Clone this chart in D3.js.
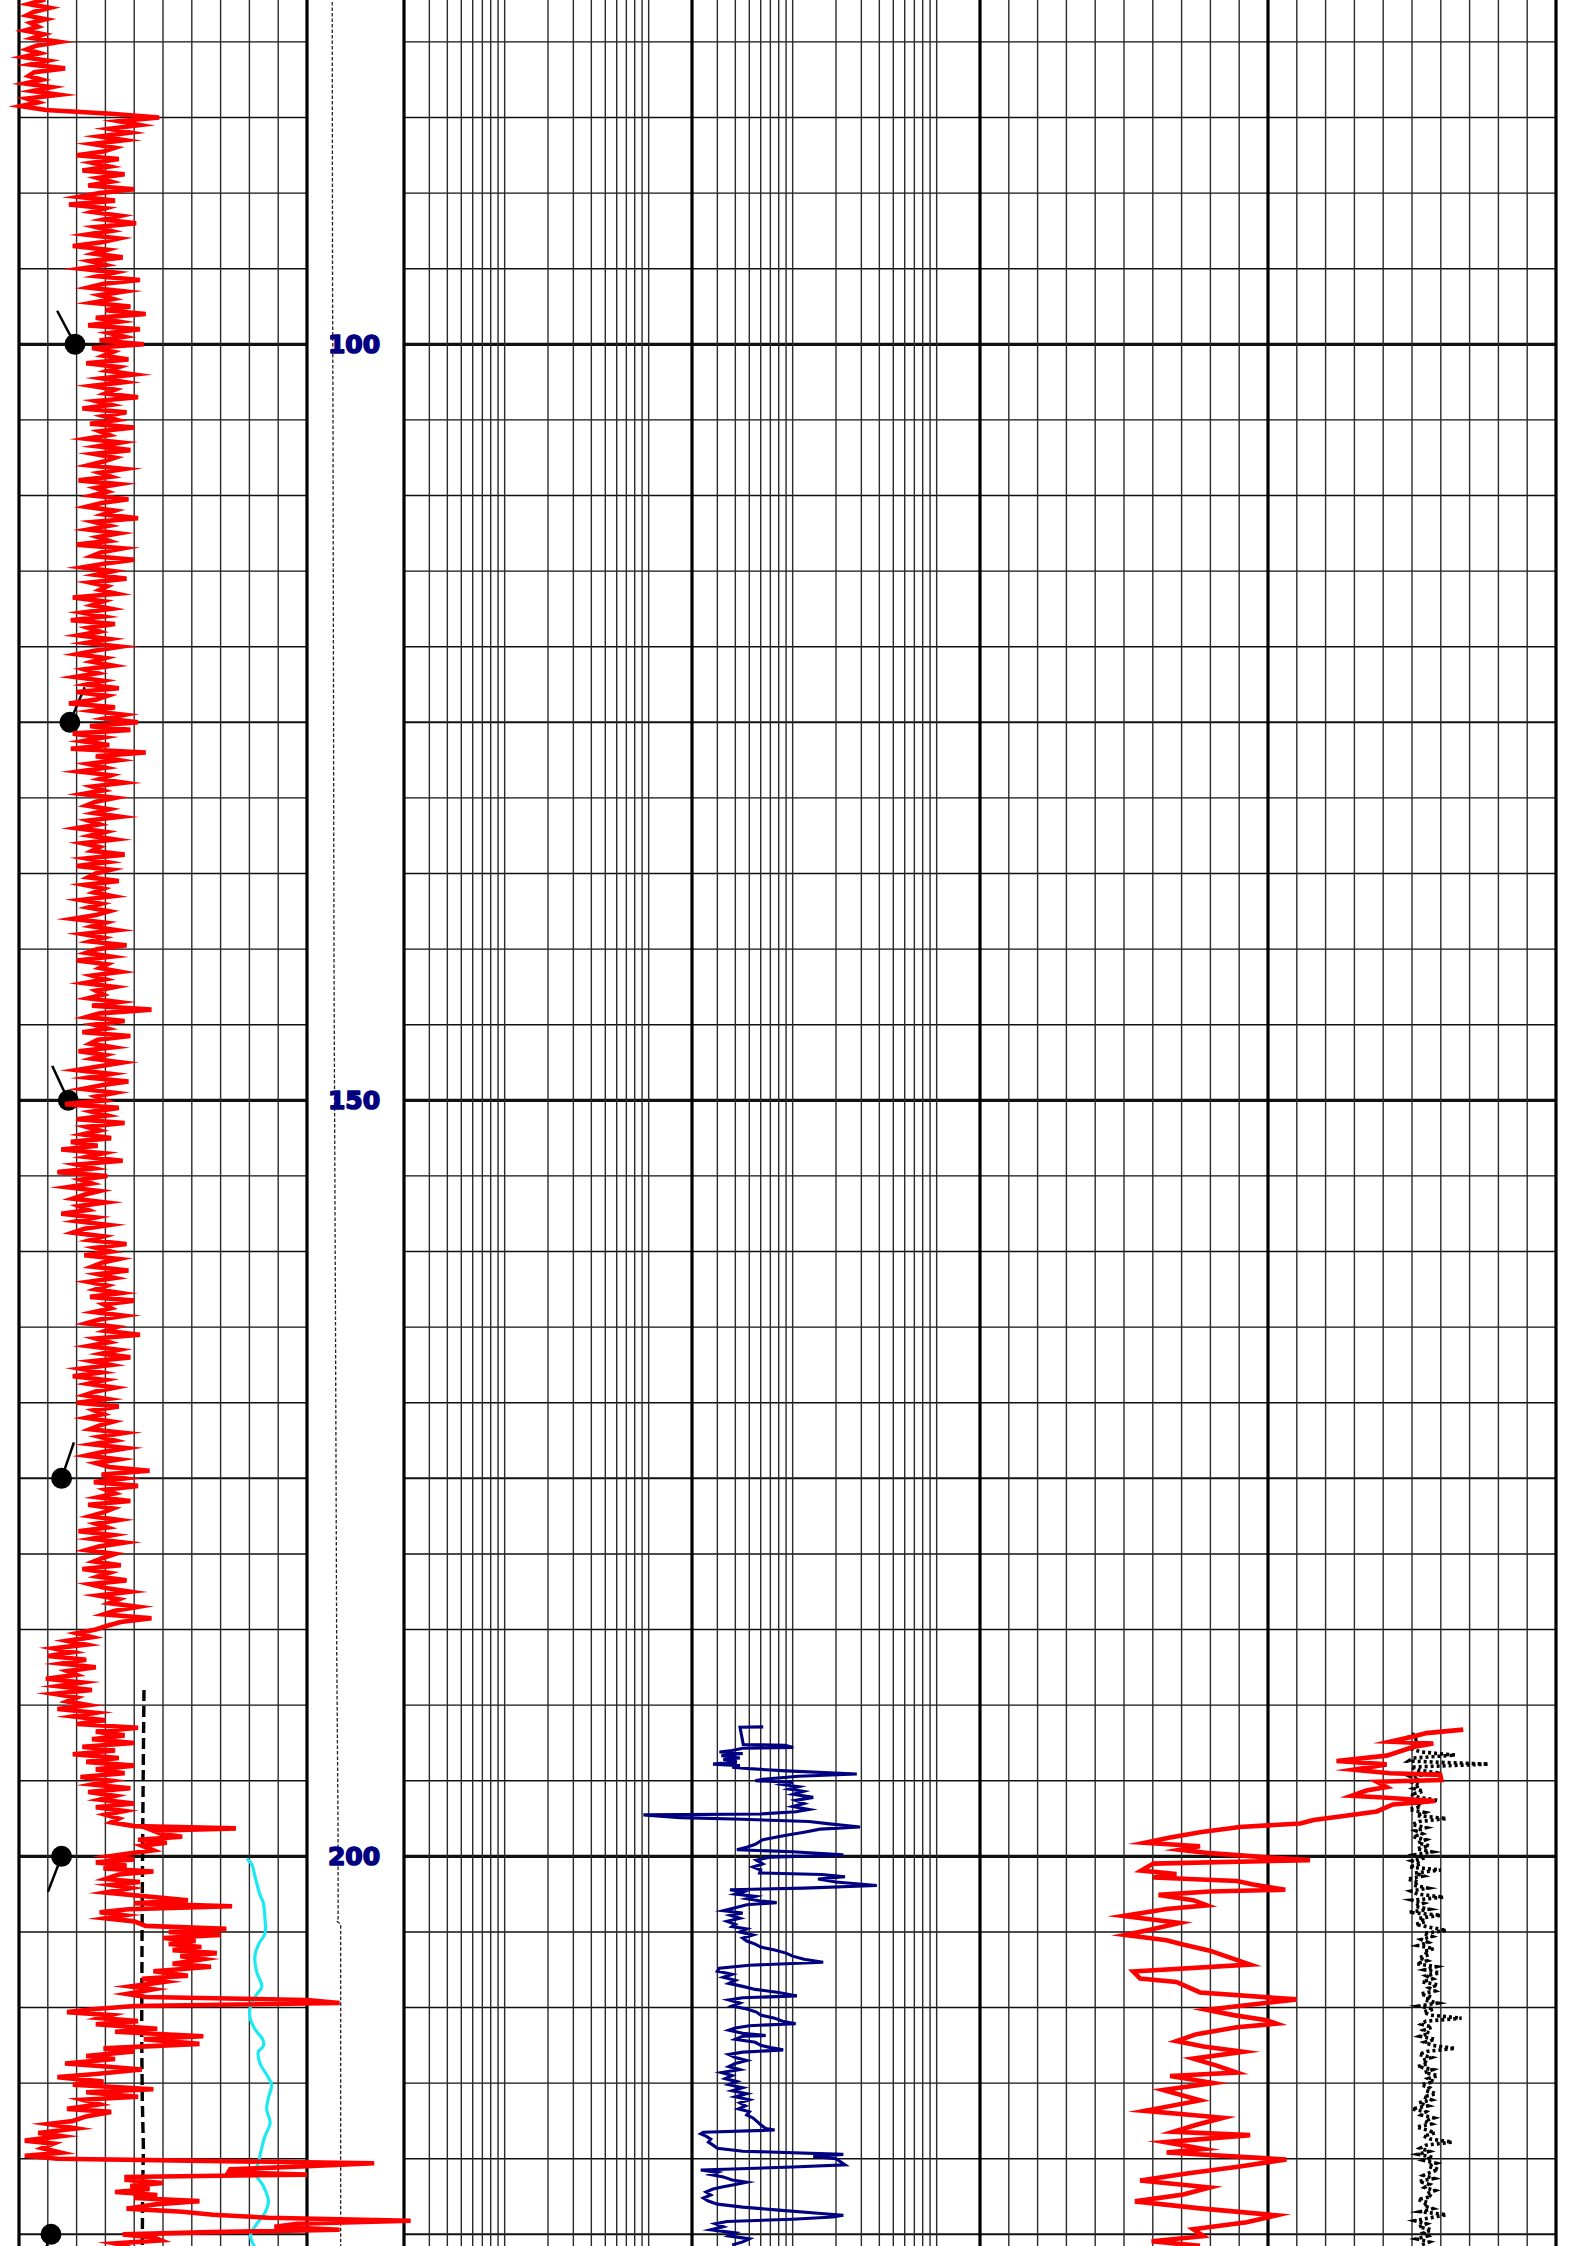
<!DOCTYPE html>
<html>
<head>
<meta charset="utf-8">
<script src="https://cdn.jsdelivr.net/npm/d3@7"></script>
<style>
  html, body { margin: 0; padding: 0; background: #fff; }
  svg { display: block; }
</style>
</head>
<body>
<div id="container"></div>
<script>
// depth window shown on the sheet
const topDepth = 77.23, bottomDepth = 225.77;
const depthLabels = [100, 150, 200];

// track 1 : gamma ray (API), upper section sampled every 0.25 from 77.0
const grTop = 77.0, grStep = 0.25;
const grUpper = [10,
  12, 5, 16, 8, 4, 14, 6, 10, 3, 13, 7, 21, 9, 4, 11, 2, 15, 6, 24, 8,
  5, 12, 3, 17, 7, 21, 4, 10, 1, 14, 48, 73, 52, 63, 47, 58, 42, 55, 38, 50,
  44, 30, 52, 38, 47, 33, 55, 41, 48, 36, 60, 42, 31, 50, 26, 45, 38, 53, 44, 61,
  40, 48, 35, 52, 43, 28, 46, 39, 54, 37, 45, 32, 50, 41, 63, 44, 36, 55, 42, 49,
  38, 58, 45, 66, 40, 52, 36, 63, 47, 55, 42, 65, 38, 49, 44, 57, 35, 52, 46, 60,
  43, 55, 38, 50, 45, 62, 40, 48, 33, 56, 44, 51, 37, 60, 42, 47, 35, 53, 41, 58,
  39, 50, 44, 36, 55, 42, 48, 31, 52, 40, 46, 38, 57, 43, 35, 50, 44, 62, 39, 47,
  36, 52, 41, 47, 30, 54, 43, 38, 60, 45, 33, 49, 40, 56, 37, 46, 42, 51, 28, 44,
  38, 48, 33, 44, 27, 50, 36, 42, 31, 47, 35, 53, 40, 30, 45, 38, 49, 34, 41, 29,
  44, 35, 52, 30, 46, 40, 26, 50, 38, 55, 45, 62, 37, 58, 28, 44, 33, 47, 27, 66,
  40, 52, 36, 45, 31, 48, 42, 55, 38, 44, 33, 50, 40, 35, 47, 39, 53, 36, 42, 30,
  45, 37, 50, 33, 42, 38, 55, 35, 46, 30, 48, 40, 36, 52, 34, 44, 39, 49, 32, 43,
  36, 47, 40, 28, 45, 38, 51, 33, 44, 37, 56, 41, 35, 48, 30, 46, 42, 53, 38, 45,
  34, 50, 40, 44, 36, 52, 38, 69, 42, 35, 55, 39, 46, 33, 58, 41, 37, 49, 31, 45,
  38, 54, 42, 30, 48, 36, 57, 43, 33, 50, 40, 45, 24, 52, 38, 46, 30, 55, 35, 42,
  33, 48, 27, 41, 22, 44, 35, 54, 30, 39, 20, 46, 32, 38, 25, 42, 34, 28, 45, 31,
  36, 22, 40, 30, 47, 34, 28, 44, 37, 56, 40, 48, 34, 52, 43, 38, 57, 41, 50, 36,
  46, 40, 53, 37, 60, 44, 48, 39, 55, 42, 35, 51, 45, 63, 40, 47, 36, 52, 43, 58,
  38, 48, 32, 43, 28, 45, 36, 50, 40, 34, 46, 30, 52, 39, 44, 35, 49, 42, 37, 55,
  42, 50, 38, 56, 44, 35, 52, 40, 47, 68, 43, 55, 39, 62, 45, 50, 41, 58, 36, 49,
  44, 37, 52, 40, 46, 31, 49, 38, 55, 42, 35, 50, 44, 39, 53, 33, 47, 41, 56, 37,
  45, 58, 41, 52, 47, 62, 50, 44, 69, 53, 46, 40, 30, 38, 25, 35, 18];

// track 1 : gamma ray, lower section [depth, API]
const grLower = [[186.5,28],[186.75,15],[187,35],[187.25,22],[187.5,40],[187.75,25],[188,30],[188.25,14],
  [188.5,33],[188.75,20],[189,38],[189.25,18],[189.5,30],[189.75,25],[190,36],[190.25,20],[190.5,40],
  [190.75,28],[191,45],[191.25,30],[191.5,62],[191.75,40],[192,55],[192.25,38],[192.5,60],[192.75,33],
  [193,50],[193.25,28],[193.5,52],[193.75,35],[194,60],[194.25,40],[194.5,55],[194.75,32],[195,48],
  [195.25,38],[195.5,58],[195.75,36],[196,50],[196.25,42],[196.5,60],[196.75,40],[197,55],[197.25,45],
  [197.5,52],[197.75,48],[198,60],[198.15,113],[198.3,70],[198.5,74],[198.7,85],[198.9,62],[199.1,77],
  [199.3,64],[199.6,70],[199.8,58],[200,47],[200.2,60],[200.4,40],[200.6,56],[200.8,44],[201,70],
  [201.2,52],[201.5,45],[201.7,63],[201.9,48],[202.1,58],[202.4,45],[202.6,62],[202.9,88],[203.1,60],
  [203.3,111],[203.5,57],[203.7,42],[203.9,55],[204.1,45],[204.3,60],[204.6,66],[204.8,108],[205,78],
  [205.2,105],[205.4,75],[205.6,92],[205.8,78],[206,95],[206.2,80],[206.4,103],[206.6,84],[206.8,96],
  [207.1,80],[207.3,100],[207.6,70],[207.9,88],[208.1,64],[208.3,76],[208.6,58],[208.8,70],[209.1,56],
  [209.3,66],[209.5,150],[209.7,167],[209.9,60],[210.1,40],[210.3,25],[210.5,48],[210.7,42],[210.9,62],
  [211.1,40],[211.4,72],[211.6,50],[211.9,96],[212.1,65],[212.4,94],[212.7,44],[212.9,60],[213.2,35],
  [213.4,50],[213.7,24],[213.9,45],[214.1,64],[214.4,40],[214.6,20],[214.9,44],[215.1,28],[215.4,70],
  [215.6,35],[215.9,62],[216.1,33],[216.4,42],[216.7,25],[216.9,48],[217.2,35],[217.5,28],[217.7,15],
  [218,30],[218.3,10],[218.5,22],[218.8,3],[219,18],[219.3,12],[219.6,22],[219.8,3],[220,20],
  [220.3,185],[220.5,150],[220.7,110],[220.9,109],[221.05,150],[221.2,56],[221.4,56],[221.6,75],
  [221.8,58],[222,68],[222.2,50],[222.4,72],[222.6,60],[222.8,94],[223,72],[223.3,56],[223.5,85],
  [223.7,101],[223.9,130],[224.1,204],[224.3,145],[224.5,133],[224.7,167],[224.85,100],[225,54],
  [225.2,70],[225.4,74],[225.6,50],[225.8,58]];

// track 1 : dashed baseline [depth, API]
const baseline = [[189.0,65.1],[193,64.8],[199,64.4],[205,64.1],[211.7,63.9],[216,64.2],[219.3,64.8],[222,64.4],[226,64.2]];

// track 1 : caliper [depth, in]
const cali = [[200.15,13.91],[200.53,14.08],[201.29,14.19],[202.56,14.37],[203.06,14.48],[204.08,14.54],
  [205.09,14.54],[205.85,14.31],[206.61,14.19],[207.62,14.25],[208.63,14.43],[209.14,14.25],[209.9,14.04],
  [210.66,14.02],[211.42,14.19],[212.18,14.48],[212.56,14.48],[212.94,14.31],[213.7,14.37],[214.45,14.6],
  [215.09,14.77],[215.97,14.66],[216.73,14.6],[217.62,14.72],[218.5,14.54],[219.26,14.43],[220.27,14.31],
  [220.91,14.19],[221.79,14.48],[222.8,14.66],[223.57,14.54],[224.32,14.25],[225.08,14.04],[226.05,14.25]];

// track 1 : dip tadpoles [depth, dip deg, azimuth deg]
const tadpoles = [[100,17.5,332],[125,15.9,23],[150,15.4,335],[175,13.3,19],[200,13.3,201],[225,10.0,200]];

// depth track : tension, dashed [depth, value]
const tens = [[77.0,2.60],[95,2.63],[105,2.68],[140,2.78],[150,2.84],[165,2.94],[186,3.06],[198,3.20],
  [204.1,3.21],[204.3,3.10],[204.5,3.47],[226,3.47]];

// track 2 : resistivity, log [depth, ohm.m]
const res = [[191.44,62.5],[191.46,43.1],[192.6,45.4],[192.65,88.5],[192.8,101],[192.85,45],[193.0,38],
  [193.1,31],[193.2,45],[193.35,32],[193.5,43],[193.6,33],[193.75,41],[193.9,28],[194.0,43],[194.1,38],
  [194.2,50],[194.35,90],[194.55,279],[194.7,110],[194.9,62],[195.0,55],[195.1,101],[195.25,85],
  [195.4,110],[195.55,95],[195.7,119],[195.9,101],[196.1,139],[196.3,105],[196.5,120],[196.7,100],
  [196.9,130],[197.05,105],[197.2,60],[197.26,9.2],[197.44,16.5],[197.55,45],[197.7,130],[197.85,180],
  [198.06,294],[198.2,155],[198.4,120],[198.6,90],[198.9,62],[199.2,55],[199.4,48],[199.56,41],
  [199.7,100],[199.9,225],[200.05,70],[200.25,56],[200.5,62],[200.7,53],[200.9,60],[201.1,59],
  [201.2,160],[201.35,231],[201.5,150],[201.7,200],[201.93,384],[202.1,120],[202.21,36.7],[202.35,45],
  [202.5,40],[202.65,55],[202.8,48],[202.95,60],[203.06,77.5],[203.2,48],[203.4,40],[203.6,33],
  [203.75,45],[203.9,37],[204.1,43],[204.3,35],[204.5,40],[204.65,38],[204.8,48],[205.0,43],[205.2,53],
  [205.4,45],[205.6,48],[205.8,55],[206.0,60],[206.2,75],[206.4,90],[206.6,100],[206.8,120],[207.0,163],
  [207.2,50],[207.4,31],[207.6,30],[207.8,38],[208.0,33],[208.2,40],[208.4,36],[208.6,45],[208.8,55],
  [209.0,80],[209.23,107],[209.35,45],[209.5,36],[209.7,43],[209.9,38],[210.1,48],[210.3,56],[210.5,60],
  [210.7,75],[210.9,85],[211.07,105],[211.2,50],[211.35,40],[211.5,36],[211.7,45],[211.85,65],
  [211.9,45],[212.1,40],[212.3,55],[212.5,60],[212.65,70],[212.8,86],[212.95,45],[213.1,36],[213.3,40],
  [213.5,48],[213.7,40],[213.9,36],[214.1,43],[214.3,32],[214.5,38],[214.7,34],[214.9,41],[215.1,36],
  [215.3,45],[215.5,38],[215.7,48],[215.9,40],[216.1,50],[216.3,43],[216.5,47],[216.7,42],[216.9,50],
  [217.1,48],[217.3,53],[217.5,56],[217.75,60],[218.0,65],[218.1,75],[218.25,24],[218.35,23],
  [218.5,25],[218.7,27],[218.9,26],[219.1,28],[219.3,30],[219.5,45],[219.71,225],[219.85,139],
  [220.0,200],[220.4,231],[220.55,100],[220.74,23],[220.9,30],[221.05,27],[221.2,33],[221.4,38],
  [221.55,48],[221.7,40],[221.85,33],[222.0,28],[222.2,25],[222.4,27],[222.6,24],[222.8,26],[223.0,30],
  [223.2,45],[223.4,80],[223.6,150],[223.74,225],[223.85,190],[224.0,100],[224.15,35],[224.3,29],
  [224.5,33],[224.7,27],[224.9,40],[225.1,36],[225.3,50],[225.5,45],[225.7,38]];

// track 3 : sonic DT [depth, us/ft]
const dt = [[191.62,56.1],[191.85,62.5],[192.08,64.8],[192.42,68.8],[192.54,61.3],[192.77,64.8],
  [193.34,69.4],[193.69,78.1],[193.92,69.4],[194.27,75.2],[194.5,68.8],[194.61,60.1],[194.96,59.9],
  [195.07,71.1],[195.42,69.4],[195.65,72.9],[196.0,75.5],[196.11,70.0],[196.34,61.0],[196.57,68.3],
  [197.03,71.1],[197.37,77.5],[197.6,82.1],[197.83,84.4],[198.06,94.9],[198.41,101.8],[198.75,107.0],
  [199.1,111.4],[199.33,101.8],[199.56,105.3],[199.79,100.1],[199.9,96.0],[200.07,90.2],[200.25,82.7],
  [200.48,109.9],[200.94,112.0],[201.17,105.9],[201.4,109.9],[201.63,95.4],[201.86,92.6],[202.21,87.0],
  [202.32,100.1],[202.55,109.0],[202.9,103.0],[203.24,100.6],[203.48,107.6],[203.94,115.1],
  [204.4,105.3],[204.86,110.5],[205.2,114.8],[205.55,107.6],[205.78,105.3],[206.24,100.1],
  [206.7,96.6],[207.16,93.1],[207.62,113.4],[208.08,112.2],[208.31,105.9],[209.0,101.8],[209.46,85.0],
  [209.92,95.4],[210.15,100.6],[210.5,96.0],[210.84,90.2],[211.07,88.5],[211.3,95.4],[211.76,102.4],
  [212.22,105.9],[212.57,101.2],[212.92,94.3],[213.38,103.0],[213.84,98.9],[214.3,95.4],[214.53,107.0],
  [214.99,99.5],[215.45,108.2],[216.14,101.8],[216.83,111.4],[217.29,97.8],[217.75,102.4],
  [218.21,106.4],[218.44,93.1],[218.9,107.9],[219.36,101.2],[219.59,107.6],[220.05,86.8],[220.51,94.9],
  [220.97,104.1],[221.44,112.2],[221.9,100.1],[222.36,104.7],[222.82,113.1],[223.28,101.8],
  [223.74,88.5],[224.2,93.7],[224.66,103.0],[225.12,101.2],[225.46,110.2],[225.76,101.8]];

// track 3 : photo-electric factor, dotted, sampled every 0.2 from 191.9
const pefTop = 191.9, pefStep = 0.2;
const pef = [7.55,7.45,7.62,7.48,7.58,7.50,7.66,8.25,7.52,7.44,8.83,7.48,7.60,8.00,7.46,7.58,7.50,7.64,7.52,7.70,
  7.48,7.62,7.95,7.55,7.66,7.45,7.72,7.58,8.10,7.62,7.50,7.75,7.56,7.68,7.52,7.74,7.60,7.80,7.58,7.85,
  7.55,7.72,7.50,7.66,7.45,8.00,7.55,7.70,7.42,7.62,7.52,7.78,7.48,7.60,8.05,7.50,7.70,7.55,7.80,7.45,
  8.00,7.62,7.74,7.56,7.82,8.10,7.70,7.85,7.66,7.78,7.60,7.88,7.70,7.80,7.62,7.76,7.58,7.92,7.72,7.98,
  7.75,7.86,7.68,7.95,7.80,7.90,7.65,7.84,7.72,7.95,7.62,7.88,7.70,7.82,8.36,7.74,7.66,7.85,7.70,7.80,
  7.64,7.90,7.72,7.85,8.25,7.76,7.62,7.84,7.68,7.78,7.60,7.86,7.72,7.95,7.78,7.88,7.66,7.80,7.74,7.92,
  7.70,7.84,7.62,7.78,7.50,7.74,7.66,7.88,7.72,7.84,7.58,7.76,7.90,7.70,7.82,8.20,7.74,7.64,7.80,7.60,
  7.86,7.70,7.92,7.78,7.96,7.82,7.70,7.88,7.62,7.80,7.72,7.90,7.76,7.84,7.60,7.78,7.70,7.86,7.64,8.10,
  7.82,7.55,7.75,7.62,7.84,7.70,7.78,7.58,7.80,7.66];

function ready() {
  const width = 1587, height = 2246;

  const svg = d3.select('#container')
    .append('svg')
    .attr('width', width)
    .attr('height', height)
    .style('background', '#fff');

  // Scales.
  const depthY = d3.scaleLinear().domain([topDepth, bottomDepth]).range([0, height]);
  const grX = d3.scaleLinear().domain([0, 150]).range([19, 307]);
  const dipX = d3.scaleLinear().domain([0, 90]).range([19, 307]);
  const caliX = d3.scaleLinear().domain([6, 16]).range([19, 307]);
  const tensX = d3.scaleLinear().domain([0, 10]).range([307, 404]);
  const resX = d3.scaleLog().domain([0.2, 2000]).range([404, 980]);
  const dtX = d3.scaleLinear().domain([140, 40]).range([980, 1556]);
  const pefX = d3.scaleLinear().domain([0, 10]).range([980, 1556]);

  // Grid.
  const grid = svg.append('g').attr('class', 'grid');

  const hDepths = d3.range(80, bottomDepth, 5);
  const hWidth = d => d % 50 === 0 ? 3.2 : d % 25 === 0 ? 2 : 1.4;
  [[19, 307], [404, 1556]].forEach(([x0, x1]) => {
    grid.selectAll(null)
      .data(hDepths)
      .enter()
      .append('line')
      .attr('x1', x0).attr('x2', x1)
      .attr('y1', d => depthY(d)).attr('y2', d => depthY(d))
      .attr('stroke', '#111')
      .attr('stroke-width', hWidth);
  });

  const vLines = [].concat(
    d3.range(0, 151, 15).map(grX),
    resX.ticks().map(resX),
    d3.range(0, 10.01, 0.5).map(pefX)
  );
  grid.selectAll('.vline')
    .data(vLines)
    .enter()
    .append('line')
    .attr('class', 'vline')
    .attr('x1', d => d).attr('x2', d => d)
    .attr('y1', 0).attr('y2', height)
    .attr('stroke', '#2a2a2a')
    .attr('stroke-width', 1.4);

  // Track borders.
  const borders = [19, 307, 404, resX(20), 980, pefX(5), 1556];
  grid.selectAll('.border')
    .data(borders)
    .enter()
    .append('line')
    .attr('class', 'border')
    .attr('x1', d => d).attr('x2', d => d)
    .attr('y1', 0).attr('y2', height)
    .attr('stroke', '#000')
    .attr('stroke-width', 3.2);

  // Tadpoles.
  const tails = 38;
  const tp = svg.append('g').attr('class', 'tadpoles');
  tp.selectAll('line')
    .data(tadpoles)
    .enter()
    .append('line')
    .attr('x1', d => dipX(d[1]))
    .attr('y1', d => depthY(d[0]))
    .attr('x2', d => dipX(d[1]) + tails * Math.sin(d[2] * Math.PI / 180))
    .attr('y2', d => depthY(d[0]) - tails * Math.cos(d[2] * Math.PI / 180))
    .attr('stroke', '#000')
    .attr('stroke-width', 2.5);
  tp.selectAll('circle')
    .data(tadpoles)
    .enter()
    .append('circle')
    .attr('cx', d => dipX(d[1]))
    .attr('cy', d => depthY(d[0]))
    .attr('r', 10.5)
    .attr('fill', '#000');

  // Curves.
  const curves = svg.append('g').attr('class', 'curves');
  const lineOf = xs => d3.line().x(d => xs(d[1])).y(d => depthY(d[0]));

  // depth track tension
  curves.append('path')
    .attr('d', lineOf(tensX)(tens))
    .attr('fill', 'none')
    .attr('stroke', '#222')
    .attr('stroke-width', 1.3)
    .attr('stroke-dasharray', '3.5,2');

  // baseline
  curves.append('path')
    .attr('d', lineOf(grX)(baseline))
    .attr('fill', 'none')
    .attr('stroke', '#000')
    .attr('stroke-width', 3.4)
    .attr('stroke-dasharray', '11,5');

  // caliper
  curves.append('path')
    .attr('d', lineOf(caliX).curve(d3.curveCatmullRom)(cali))
    .attr('fill', 'none')
    .attr('stroke', '#1ce9f2')
    .attr('stroke-width', 3.2);

  // gamma ray
  const grData = grUpper.map((v, i) => [grTop + i * grStep, v]).concat(grLower);
  curves.append('path')
    .attr('d', lineOf(grX)(grData))
    .attr('fill', 'none')
    .attr('stroke', '#ff0000')
    .attr('stroke-width', 4.6)
    .attr('stroke-linejoin', 'miter')
    .attr('stroke-miterlimit', 8);

  // resistivity
  curves.append('path')
    .attr('d', lineOf(resX)(res))
    .attr('fill', 'none')
    .attr('stroke', '#000080')
    .attr('stroke-width', 3.1)
    .attr('stroke-linejoin', 'miter')
    .attr('stroke-miterlimit', 6);

  // photo-electric factor, dotted
  const pefData = pef.map((v, i) => [pefTop + i * pefStep, v]);
  curves.append('path')
    .attr('d', lineOf(pefX)(pefData))
    .attr('fill', 'none')
    .attr('stroke', '#000')
    .attr('stroke-width', 3.6)
    .attr('stroke-linejoin', 'miter')
    .attr('stroke-miterlimit', 8)
    .attr('stroke-dasharray', '3,3');

  // sonic
  curves.append('path')
    .attr('d', lineOf(dtX)(dt))
    .attr('fill', 'none')
    .attr('stroke', '#ff0000')
    .attr('stroke-width', 4.6)
    .attr('stroke-linejoin', 'miter')
    .attr('stroke-miterlimit', 8);

  // Depth labels.
  svg.append('g')
    .selectAll('text')
    .data(depthLabels)
    .enter()
    .append('text')
    .attr('x', 354)
    .attr('y', d => depthY(d) + 9)
    .attr('text-anchor', 'middle')
    .attr('font-family', 'DejaVu Sans, sans-serif')
    .attr('font-weight', 'bold')
    .attr('font-size', 25)
    .attr('fill', '#000080')
    .attr('stroke', '#000080')
    .attr('stroke-width', 1.6)
    .attr('stroke-linejoin', 'round')
    .text(d => d);
}

ready();
</script>
</body>
</html>
